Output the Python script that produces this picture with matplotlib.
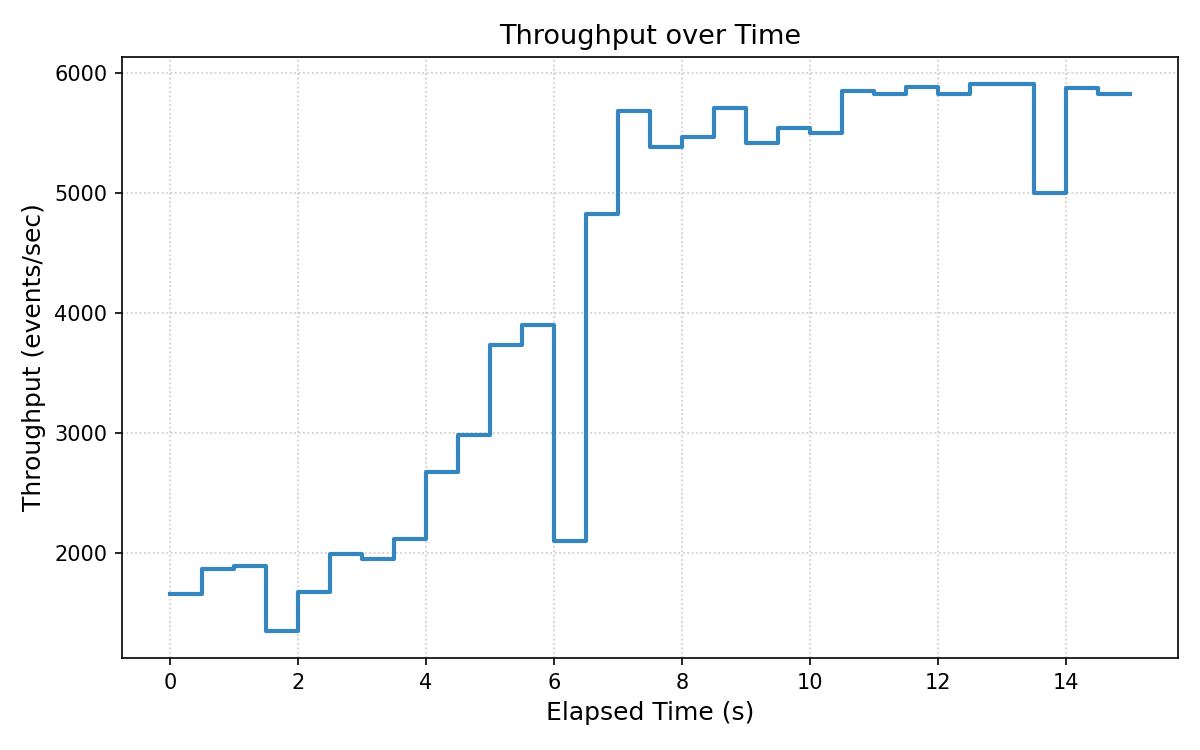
import matplotlib
matplotlib.use("Agg")
import matplotlib.pyplot as plt
import numpy as np

time_s = [0, 0.5, 1, 1.5, 2, 2.5, 3, 3.5, 4, 4.5, 5, 5.5, 6, 6.5, 7, 7.5,
          8, 8.5, 9, 9.5, 10, 10.5, 11, 11.5, 12, 12.5, 13, 13.5, 14, 14.5, 15]
throughput = [1658, 1867, 1892, 1350, 1675, 1986, 1950, 2117, 2675, 2983,
              3732, 3900, 2097, 4822, 5686, 5382, 5466, 5708, 5416, 5541,
              5502, 5854, 5828, 5887, 5828, 5908, 5908, 5000, 5878, 5828, 5828]

fig, ax = plt.subplots(figsize=(8, 5), dpi=150)
ax.step(time_s, throughput, where='post', color='#3586bf', linewidth=2)
ax.set_title("Throughput over Time", fontsize=13)
ax.set_xlabel("Elapsed Time (s)", fontsize=12)
ax.set_ylabel("Throughput (events/sec)", fontsize=12)
ax.grid(True, linestyle=':', color='#bbbbbb', linewidth=0.8, alpha=0.8)
fig.subplots_adjust(left=0.1017, right=0.9817, top=0.924, bottom=0.1227)
fig.savefig("out.png", dpi=150)
